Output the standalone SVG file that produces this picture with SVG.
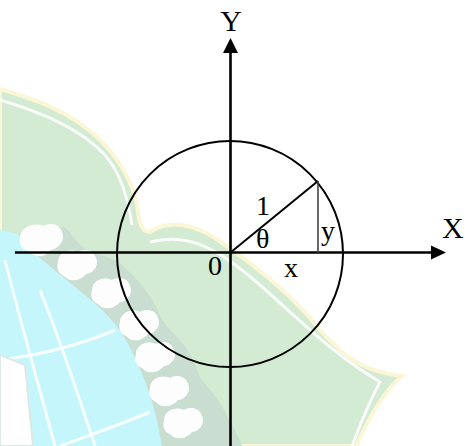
<svg xmlns="http://www.w3.org/2000/svg" width="468" height="446" viewBox="0 0 468 446">
<style>
.ax{stroke:#000;stroke-width:2.6;fill:none}
.ln{stroke:#000;stroke-width:2;fill:none}
.lb{font-family:"Liberation Serif","Times New Roman",serif;font-size:28px;fill:#000}
.big{font-size:30px}
.wm-line{stroke:#ffffff;stroke-width:3;fill:none;opacity:0.85}
</style>
<g id="watermark">
<path d="M0,89 C30,98 70,110 100,140 C120,160 132,180 137,205 C139,220 140,232 150,232 C165,222 185,220 215,238 C250,262 290,292 320,330 C345,358 365,372 402,376 C385,390 370,415 356,446 L0,446 Z" fill="#d3ead3" stroke="#fbf7d6" stroke-width="4"/>
<path d="M0,100 C40,112 80,128 105,155 C122,175 128,200 132,225" class="wm-line" stroke="#fbf7d8"/>
<path d="M150,242 C190,232 220,250 260,285 C300,320 330,352 380,382 C370,400 362,420 352,446" class="wm-line" stroke="#fbf7d8"/>
<path d="M0,230 C15,232 25,236 35,245 C60,268 90,295 115,318 C135,345 150,380 165,446 L0,446 Z" fill="#c4f6fb"/>
<path d="M18,234 C30,228 45,225 65,227 C72,235 76,243 90,252 C105,256 118,260 125,268 C138,280 148,292 155,305 C160,318 165,325 175,335 C185,345 195,360 200,378 C210,390 220,400 228,418 C235,430 240,440 242,446 L162,446 C156,410 148,385 135,358 C125,335 115,322 100,308 C80,290 60,275 40,258 C30,250 24,242 18,234 Z" fill="#c9ddd0"/>
<g fill="#ffffff" opacity="0.95">
<path d="M20,236 C22,226 35,222 44,226 C50,222 60,224 62,232 C66,240 58,250 50,250 C46,258 34,258 30,252 C22,250 18,244 20,236 Z"/>
<path d="M58,262 C58,252 70,248 78,252 C84,248 94,250 96,258 C100,266 92,274 86,274 C80,282 68,282 64,276 C58,274 56,268 58,262 Z"/>
<path d="M92,290 C92,280 104,276 112,280 C118,276 128,278 130,286 C134,294 126,302 120,302 C114,310 102,310 98,304 C92,302 90,296 92,290 Z"/>
<path d="M120,322 C120,312 132,308 140,312 C146,308 156,310 158,318 C162,326 154,334 148,334 C142,342 130,342 126,336 C120,334 118,328 120,322 Z"/>
<path d="M136,354 C136,344 148,340 156,344 C162,340 172,342 174,350 C178,358 170,366 164,366 C158,374 146,374 142,368 C136,366 134,360 136,354 Z"/>
<path d="M150,388 C150,378 162,374 170,378 C176,374 186,376 188,384 C192,392 184,400 178,400 C172,408 160,408 156,402 C150,400 148,394 150,388 Z"/>
<path d="M164,420 C164,410 176,406 184,410 C190,406 200,408 202,416 C206,424 198,432 192,432 C186,440 174,440 170,434 C164,432 162,426 164,420 Z"/>
</g>
<path d="M5,260 C20,320 40,390 55,446" class="wm-line"/>
<path d="M40,290 C60,340 80,400 95,446" class="wm-line"/>
<path d="M0,360 C40,355 80,345 115,330" class="wm-line"/>
<path d="M60,446 C90,435 120,425 150,412" class="wm-line"/>
<path d="M0,355 L25,365 L33,446 L0,446 Z" fill="#ffffff" stroke="#dde8e6" stroke-width="2"/>
</g>
<g id="circle"><circle cx="230" cy="254" r="113" class="ln"/></g>
<g id="connectors">
<line x1="230.5" y1="446" x2="230.5" y2="52" class="ax"/>
<polygon points="230.5,38 223,53 238,53" fill="#000"/>
<line x1="15" y1="252.5" x2="432" y2="252.5" class="ax"/>
<polygon points="446,252.5 431,245.5 431,259.5" fill="#000"/>
<line x1="230.5" y1="252.5" x2="318" y2="181" class="ln"/>
<line x1="318" y1="181" x2="318" y2="252.5" stroke="#444" stroke-width="1.6"/>
</g>
<g id="labels">
<text x="231" y="31" class="lb big" text-anchor="middle">Y</text>
<text x="442" y="238" class="lb big">X</text>
<text x="256" y="215" class="lb">1</text>
<text x="256" y="248" class="lb">θ</text>
<text x="321" y="240" class="lb">y</text>
<text x="284" y="277" class="lb">x</text>
<text x="208" y="275" class="lb">0</text>
</g>
</svg>
